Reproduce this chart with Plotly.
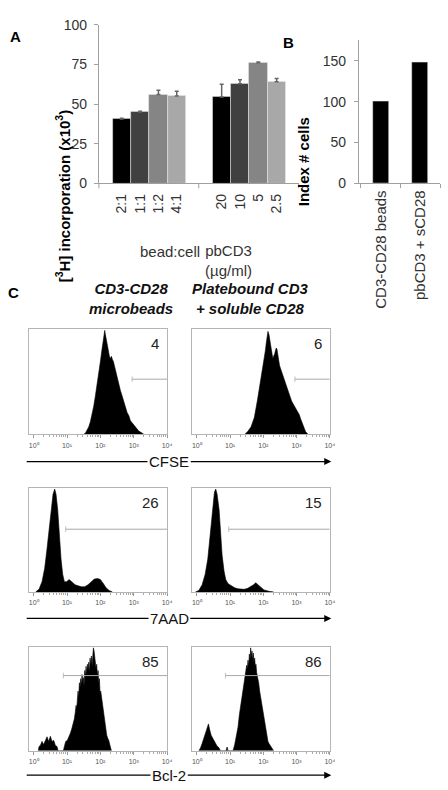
import numpy as np
import plotly.graph_objects as go

# ---------------- data ----------------
# Panel A: [3H] incorporation (x10^3)
bead_ratio_labels = ["2:1", "1:1", "1:2", "4:1"]
bead_ratio_values = [40.5, 45, 56, 55]
bead_ratio_err = [0.5, 0.5, 2.6, 3.0]
pbcd3_labels = ["20", "10", "5", "2.5"]
pbcd3_values = [54.5, 62.8, 76, 64]
pbcd3_err = [8.0, 2.5, 0.5, 2.0]
bar_colors = ["#000000", "#404040", "#858585", "#a8a8a8"]

# Panel B: index # cells
b_labels = ["CD3-CD28 beads", "pbCD3 + sCD28"]
b_values = [100, 148]

# Panel C: flow histograms (log10 fluorescence, relative count)
cfse_beads_log = [1.50,1.55,1.60,1.65,1.70,1.75,1.80,1.85,1.90,1.95,2.00,2.04,2.08,2.11,2.13,2.15,2.18,2.21,2.24,2.27,2.30,2.33,2.36,2.39,2.42,2.45,2.48,2.51,2.55,2.60,2.65,2.70,2.75,2.80,2.85,2.90,2.95,3.00,3.05,3.10,3.15,3.20,3.25,3.30]
cfse_beads_cnt = [0,1,4,7,12,19,27,37,47,58,70,80,90,97,100,96,90,84,77,75,73,75,72,70,66,62,57,52,48,42,37,31,27,21,18,13,11,9,6,5,3,2,1,0]
cfse_pb_log = [1.45,1.53,1.63,1.73,1.82,1.92,2.02,2.06,2.09,2.12,2.14,2.17,2.19,2.22,2.24,2.27,2.29,2.32,2.34,2.37,2.39,2.41,2.43,2.46,2.49,2.53,2.56,2.61,2.66,2.70,2.75,2.80,2.85,2.90,2.95,3.00,3.05,3.08,3.12,3.16,3.20,3.24,3.27,3.34]
cfse_pb_cnt = [0,2.5,7,16,32,51,69,80,88,95,99,96,93,86,82,76,73,76,77,81,83,82,79,72,66,62,59,54,49,45,40,36,32,29,26,24,21,19,15,12,9,6,2.5,0]
aad_beads_log = [0.06,0.16,0.25,0.33,0.40,0.47,0.53,0.58,0.63,0.67,0.72,0.76,0.82,0.87,0.92,0.99,1.06,1.14,1.24,1.33,1.43,1.53,1.63,1.73,1.82,1.92,2.00,2.07,2.17,2.26,2.36]
aad_beads_cnt = [0,2.5,10,23,42,64,83,95,100,95,80,58,32,17,10,10,12,10,7,6,5,5,7,10,12.5,13,12,9,4,1.5,0]
aad_pb_log = [-0.04,0.06,0.16,0.25,0.33,0.40,0.47,0.53,0.57,0.61,0.67,0.72,0.76,0.82,0.87,0.94,1.04,1.14,1.24,1.33,1.43,1.53,1.63,1.71,1.77,1.84,1.92,2.02,2.17,2.31]
aad_pb_cnt = [0,1.5,7,17,32,54,80,97,100,95,80,58,36,20,12,8,6,4,3,2.5,2.5,3.5,5,7,9,7,4,2,0.6,0]
bcl_beads_log = [0.14,0.16,0.20,0.25,0.30,0.35,0.40,0.45,0.50,0.55,0.60,0.65,0.70,0.73,
                 0.89,0.92,0.96,1.01,1.06,1.10,1.14,1.17,1.20,1.22,1.25,1.27,1.29,1.31,1.33,1.35,1.37,1.39,1.41,1.43,1.45,1.47,1.49,1.51,1.53,1.55,1.57,1.59,1.61,1.63,1.65,1.67,1.69,1.71,1.73,1.75,1.77,1.79,1.81,1.83,1.85,1.87,1.89,1.91,1.93,1.95,1.97,1.99,2.01,2.04,2.07,2.10,2.13,2.16,2.19,2.22,2.25,2.28,2.31,2.33]
bcl_beads_cnt = [0,4,5,9,6,10,13.5,9,14,9,10,5,4,0,
                 0,4,9,10,13.5,17,21,24,27,31,38,44,41,50,58,52,66,62,70,64,74,68,71,63,78,72,82,74,84,78,86,76,90,84,92,82,96,100,97,90,88,80,84,72,78,66,70,56,58,50,42,35,27,21,15,12,10,6,3,0]
bcl_pb_log = [0.06,0.11,0.16,0.21,0.25,0.30,0.35,0.39,0.43,0.48,0.53,0.60,0.67,0.71,
              0.88,0.91,0.94,
              1.09,1.14,1.19,1.24,1.28,1.31,1.33,1.36,1.38,1.41,1.43,1.46,1.48,1.50,1.52,1.54,1.56,1.58,1.60,1.62,1.64,1.66,1.68,1.70,1.72,1.74,1.76,1.78,1.80,1.83,1.86,1.89,1.92,1.95,1.98,2.01,2.04,2.07,2.10,2.14,2.17,2.21,2.24,2.27,2.31]
bcl_pb_cnt = [0,2.5,7,12,17,21,26,20,15,12,9,5,2.5,0,
              0,3.5,0,
              0,6,13.5,23,35,42,48,55,60,66,70,75,79,83,80,88,82,94,88,100,92,97,88,95,86,90,82,84,76,72,66,58,52,45,38,31,25,19,13.5,9,7,5,4,2,0]

hist_logs = [cfse_beads_log, cfse_pb_log, aad_beads_log, aad_pb_log, bcl_beads_log, bcl_pb_log]
hist_cnts = [cfse_beads_cnt, cfse_pb_cnt, aad_beads_cnt, aad_pb_cnt, bcl_beads_cnt, bcl_pb_cnt]
gate_start_log = [2.95, 2.95, 0.96, 0.96, 0.89, 0.86]
gate_level = [53, 53, 61, 61, 73, 73]
gate_pct = ["4", "6", "26", "15", "85", "86"]
decade_ticks = [1, 10, 100, 1000, 10000]
decade_labels = ["10⁰", "10¹", "10²", "10³", "10⁴"]
marker_labels = ["CFSE", "7AAD", "Bcl-2"]

# ---------------- layout helpers ----------------
W, H = 448, 790
FONT = "Liberation Sans, Arial, sans-serif"
AXC = "#a0a0a0"
TXT = "#333333"


def px(x):
    return x / W


def py(y):
    return 1 - y / H


fig = go.Figure()

# Panel A bars
fig.add_trace(go.Bar(x=bead_ratio_labels, y=bead_ratio_values, marker_color=bar_colors, width=1.0,
                     error_y=dict(type="data", symmetric=False, array=bead_ratio_err,
                                  arrayminus=[0] * 4, color="#666666", thickness=1.5, width=2),
                     xaxis="x", yaxis="y", showlegend=False))
fig.add_trace(go.Bar(x=pbcd3_labels, y=pbcd3_values, marker_color=bar_colors, width=1.0,
                     error_y=dict(type="data", symmetric=False, array=pbcd3_err,
                                  arrayminus=[0] * 4, color="#666666", thickness=1.5, width=2),
                     xaxis="x2", yaxis="y", showlegend=False))
# Panel B bars
fig.add_trace(go.Bar(x=b_labels, y=b_values, marker_color="#000000", width=0.4,
                     xaxis="x3", yaxis="y3", showlegend=False))

tickfont = dict(family=FONT, size=14, color=TXT)
layout = dict(
    width=W, height=H, margin=dict(l=0, r=0, t=0, b=0),
    paper_bgcolor="white", plot_bgcolor="white", bargap=0, showlegend=False,
    font=dict(family=FONT, color=TXT),
    xaxis=dict(domain=[px(100), px(201)], anchor="y", type="category", range=[-1.25, 4.2],
               showline=True, linecolor=AXC, linewidth=1, ticks="", tickangle=-90,
               tickfont=tickfont, showgrid=False, zeroline=False, ticklabelstandoff=4),
    xaxis2=dict(domain=[px(201), px(302)], anchor="y", type="category", range=[-1.25, 4.2],
                showline=True, linecolor=AXC, linewidth=1, ticks="", tickangle=-90,
                tickfont=tickfont, showgrid=False, zeroline=False, ticklabelstandoff=4),
    yaxis=dict(domain=[py(179), py(17)], anchor="x", range=[0, 100], tickvals=[0, 25, 50, 75, 100],
               showline=True, linecolor=AXC, linewidth=1, ticks="outside", ticklen=4, tickcolor=AXC,
               tickfont=tickfont, showgrid=False, zeroline=False, ticklabelstandoff=4),
    xaxis3=dict(domain=[px(363), px(445)], anchor="y3", type="category", range=[-0.55, 1.5],
                showline=True, linecolor=AXC, linewidth=1, ticks="outside", ticklen=4, tickcolor=AXC,
                tickson="boundaries", tickangle=-90, tickfont=dict(family=FONT, size=15, color=TXT),
                showgrid=False, zeroline=False),
    yaxis3=dict(domain=[py(179), py(33)], anchor="x3", range=[0, 175], tickvals=[0, 50, 100, 150],
                showline=True, linecolor=AXC, linewidth=1, ticks="outside", ticklen=4, tickcolor=AXC,
                tickfont=tickfont, showgrid=False, zeroline=False, ticklabelstandoff=5),
)

annotations = []
shapes = []

# group divider ticks under panel A x axis
for xr, xv in [("x domain", 0), ("x domain", 1), ("x2 domain", 1)]:
    shapes.append(dict(type="line", xref=xr, yref="paper", x0=xv, x1=xv, y0=py(179), y1=py(184),
                       line=dict(color=AXC, width=1)))

# histogram panels
cols = [(29, 169), (194, 333.5)]
rows = [(328, 435), (490, 596), (652, 758)]
minor_vals = [m * 10 ** k for k in range(4) for m in range(2, 10)]
BOX = "#b5b5b5"
for i in range(6):
    r, c = divmod(i, 2)
    k = i + 4
    xa, ya = f"x{k}", f"y{k}"
    layout[f"xaxis{k}"] = dict(domain=[px(cols[c][0]), px(cols[c][1])], anchor=ya, type="log",
                               range=[-0.15, 4.0], showline=True, mirror=True, linecolor=BOX, linewidth=1,
                               tickvals=decade_ticks, ticktext=decade_labels, ticks="outside", ticklen=3,
                               tickcolor="#999999", tickfont=dict(family=FONT, size=7, color="#555555"),
                               minor=dict(tickvals=minor_vals, ticks="outside", ticklen=2, tickcolor="#aaaaaa"),
                               showgrid=False, zeroline=False, ticklabelstandoff=1)
    layout[f"yaxis{k}"] = dict(domain=[py(rows[r][1]), py(rows[r][0])], anchor=xa, range=[0, 101],
                               showline=True, mirror=True, linecolor=BOX, linewidth=1,
                               showticklabels=False, ticks="", showgrid=False, zeroline=False)
    fig.add_trace(go.Scatter(x=10 ** np.array(hist_logs[i]), y=hist_cnts[i], mode="lines",
                             fill="tozeroy", fillcolor="#000000", line=dict(color="#000000", width=0.6),
                             xaxis=xa, yaxis=ya, hoverinfo="skip"))
    fig.add_trace(go.Scatter(x=[10 ** gate_start_log[i], 10 ** 4], y=[gate_level[i]] * 2,
                             mode="lines+markers", line=dict(color="#a8a8a8", width=1),
                             marker=dict(symbol="line-ns-open", size=[4, 0], color="#a8a8a8",
                                         line=dict(color="#a8a8a8", width=1)),
                             xaxis=xa, yaxis=ya, hoverinfo="skip"))
    annotations.append(dict(xref=xa, yref=ya, x=3.82, y=87, text=gate_pct[i], showarrow=False,
                            xanchor="right", yanchor="middle",
                            font=dict(family=FONT, size=15, color="#222222")))

# marker arrows under each histogram row: left half as a line, right half as the label's arrow
arrow_y = [463, 623, 783]
ARROW_L, ARROW_R, LABEL_X = 27, 335, 173
for lab, ay in zip(marker_labels, arrow_y):
    shapes.append(dict(type="line", xref="paper", yref="paper", x0=px(ARROW_L), x1=px(LABEL_X),
                       y0=py(ay), y1=py(ay), line=dict(color="#000000", width=1.4), layer="below"))
    annotations.append(dict(xref="paper", yref="paper", axref="pixel", ayref="pixel",
                            x=px(ARROW_R), y=py(ay), ax=-(ARROW_R - LABEL_X), ay=0, text=lab,
                            showarrow=True, arrowhead=2, arrowsize=1, arrowwidth=1.4,
                            arrowcolor="#000000", standoff=0, bgcolor="white", borderpad=1,
                            font=dict(family=FONT, size=15, color="#111111")))

# titles and labels
annotations += [
    dict(xref="paper", yref="paper", x=px(8), y=py(18), text="<b>A</b>", showarrow=False,
         font=dict(family=FONT, size=15, color="#000000")),
    dict(xref="paper", yref="paper", x=px(292), y=py(24), text="<b>B</b>", showarrow=False,
         font=dict(family=FONT, size=15, color="#000000")),
    dict(xref="paper", yref="paper", x=px(6), y=py(290), text="<b>C</b>", showarrow=False,
         font=dict(family=FONT, size=15, color="#000000")),
    dict(xref="paper", yref="paper", x=px(52), y=py(101), textangle=-90,
         text="<b>[<sup>3</sup>H] incorporation (x10<sup>3</sup>)</b>", showarrow=False,
         font=dict(family=FONT, size=15, color="#000000")),
    dict(xref="paper", yref="paper", x=px(317), y=py(109), textangle=-90,
         text="<b>Index # cells</b>", showarrow=False,
         font=dict(family=FONT, size=15, color="#000000")),
    dict(xref="paper", yref="paper", x=px(140), y=py(238), text="bead:cell", showarrow=False,
         font=dict(family=FONT, size=15, color=TXT)),
    dict(xref="paper", yref="paper", x=px(231), y=py(236.5), text="pbCD3<br>(µg/ml)", showarrow=False,
         font=dict(family=FONT, size=15, color=TXT)),
    dict(xref="paper", yref="paper", x=px(88), y=py(297), text="<b><i>CD3-CD28<br>microbeads</i></b>",
         showarrow=False, font=dict(family=FONT, size=15, color="#111111")),
    dict(xref="paper", yref="paper", x=px(253), y=py(297), text="<b><i>Platebound CD3<br>+ soluble CD28</i></b>",
         showarrow=False, font=dict(family=FONT, size=15, color="#111111")),
]

layout["annotations"] = annotations
layout["shapes"] = shapes
fig.update_layout(**layout)
fig.write_html("out.html")
